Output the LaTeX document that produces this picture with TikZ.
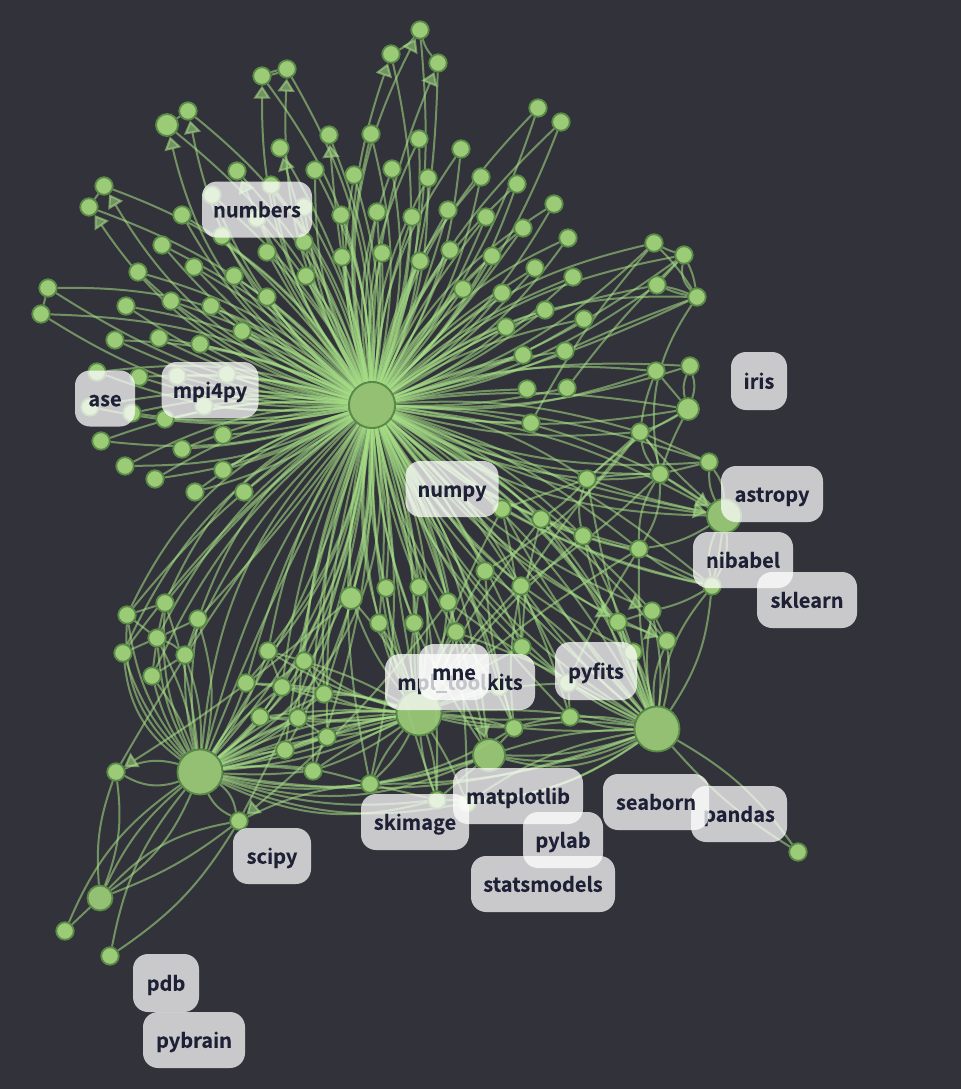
\documentclass[tikz,border=0pt]{standalone}
\usepackage{fontspec}
\setmainfont{Noto Sans CJK SC}[BoldFont={* Bold},UprightFont={* Medium},BoldFeatures={FakeBold=0.25}]
\usetikzlibrary{arrows.meta}
\definecolor{bgc}{HTML}{32323A}
\definecolor{dotf}{HTML}{9CCB78}
\definecolor{dots}{HTML}{5A8A48}
\definecolor{edgec}{HTML}{A6DE86}
\definecolor{labt}{HTML}{1E2136}
\pgfdeclarelayer{edgelayer}
\pgfdeclarelayer{labellayer}
\pgfsetlayers{edgelayer,main,labellayer}
\tikzset{
  dot/.style={circle,draw=dots,fill=dotf,line width=1.8pt,minimum size=17.5pt,inner sep=0pt},
  dotb/.style={dot,minimum size=22pt},
  hub/.style={dot,minimum size=#1,fill opacity=.93},
  edgeline/.style={draw=edgec,opacity=.56,line width=2pt},
  edgearrow/.style={edgeline,-{Triangle[length=13pt,width=17pt]}},
  lab/.style={rounded corners=15pt,fill=white,fill opacity=.74,text opacity=1,text=labt,font=\bfseries\fontsize{20}{20}\selectfont,
    inner sep=0pt,minimum height=56pt,text height=18.5pt,text depth=3pt,align=center}
}
\begin{document}
\begin{tikzpicture}[x=1pt,y=-1pt]
\useasboundingbox (0,0) rectangle (961,1089);
\begin{pgfonlayer}{edgelayer}
\fill[bgc] (0,0) rectangle (961,1089);
\end{pgfonlayer}
% hubs
\node[hub=46pt] (hA) at (372,405) {};
\node[hub=45pt] (hB) at (200,772) {};
\node[hub=45pt] (hC) at (419,713) {};
\node[hub=32pt] (hD) at (489,755) {};
\node[hub=45pt] (hE) at (657,729) {};
\node[hub=34pt] (hF) at (724,516) {};
\node[hub=25pt] (hG) at (100,898) {};
% larger points
\foreach \x/\y in {167/125,351/598,688/409}
  \node[dotb] (p\x x\y) at (\x,\y) {};
% points
\foreach \x/\y in {
420/30,391/54,438/63,287/69,262/76,188/111,104/186,89/207,538/108,561/122,
329/135,371/134,419/139,461/149,280/148,315/170,237/171,354/175,392/169,428/178,271/185,212/195,182/215,304/207,341/215,377/212,412/217,448/210,481/177,257/218,222/236,162/245,194/267,234/276,267/252,304/242,342/257,382/253,420/261,450/250,306/276,267/297,138/272,171/301,211/306,126/306,48/288,41/314,242/331,200/344,159/338,115/340,97/372,139/377,177/376,227/374,204/406,132/413,90/407,165/419,463/289,
223/435,101/441,182/449,125/466,223/470,155/479,195/492,244/492,
517/184,554/204,486/217,523/228,568/238,492/256,535/268,573/277,502/293,545/310,584/319,506/327,523/355,565/351,527/389,567/388,531/423,
654/243,684/255,697/297,657/285,656/371,690/366,640/432,709/462,660/474,587/479,502/509,541/519,583/536,639/549,712/586,485/571,521/586,652/611,618/622,667/641,633/652,
386/588,419/587,448/602,379/623,414/623,456/632,522/647,568/683,499/687,570/717,514/728,370/784,437/800,467/803,798/852,
127/615,165/603,198/619,157/638,123/653,185/655,152/676,268/651,304/661,246/683,282/687,324/694,260/717,298/718,327/737,285/750,313/771,116/772,239/821,65/931,110/956}
  \node[dot] (p\x x\y) at (\x,\y) {};
\begin{pgfonlayer}{edgelayer}
% arrows from the main hub
\foreach \n/\b in {262x76/18,287x69/16,188x111/20,167x125/22,104x186/19,89x207/20,391x54/15,438x63/11,420x30/19,280x148/3,329x135/4,237x171/5,652x611/-12,618x622/-9,667x641/-14}
  \draw[edgearrow] (hA) to[bend left=\b] (p\n);
% outer arcs, as measured
\foreach \n/\b in {262x76/-17,287x69/-15,188x111/-18,167x125/-14,104x186/-18,89x207/-14,48x288/-20,48x288/12,41x314/-13,41x314/16,391x54/-15,420x30/-12,438x63/-9,538x108/14,538x108/-10,561x122/12,561x122/-12,329x135/-12,280x148/-10,237x171/-12}
  \draw[edgeline] (hA) to[bend left=\b] (p\n);
\foreach \n/\b [evaluate=\b as \bb using \b*1.6] in {
 371x134/8,371x134/-8,419x139/9,419x139/-7,461x149/9,461x149/-8,315x170/8,315x170/-8,354x175/8,354x175/-7,392x169/9,392x169/-8,428x178/8,428x178/-8,481x177/9,481x177/-8,517x184/8,517x184/-8,554x204/9,554x204/-7,271x185/8,271x185/-8,212x195/8,212x195/-7,182x215/9,182x215/-8,304x207/6,304x207/-6,568x238/9,568x238/-8,138x272/8,138x272/-8,162x245/7,162x245/-6,
 341x215/3,377x212/-3,412x217/4,448x210/-3,486x217/4,523x228/-3,257x218/4,222x236/-3,267x252/3,304x242/-3,342x257/3,382x253/-3,420x261/3,450x250/-3,306x276/2,267x297/-2,234x276/4,194x267/-4,492x256/3,535x268/5,535x268/-5,573x277/6,573x277/-6,502x293/3,545x310/5,584x319/6,584x319/-5,506x327/2,463x289/-2,
 341x215/-5,377x212/5,412x217/-5,448x210/5,486x217/-5,523x228/5,257x218/-5,222x236/5,267x252/-5,304x242/5,342x257/-5,382x253/5,420x261/-5,450x250/5,306x276/-5,267x297/5,234x276/-5,194x267/5,492x256/-5,502x293/-5,545x310/-5,506x327/-5,463x289/5,
 171x301/4,211x306/-3,126x306/7,126x306/-7,242x331/2,200x344/-3,159x338/5,115x340/6,115x340/-7,97x372/8,97x372/-8,139x377/6,139x377/-6,177x376/4,227x374/-2,204x406/3,132x413/-6,132x413/6,90x407/7,90x407/-6,165x419/3,
 171x301/-5,211x306/5,242x331/-5,200x344/5,159x338/-5,177x376/-5,227x374/5,204x406/-5,165x419/-5,
 223x435/4,101x441/8,101x441/-7,182x449/-5,182x449/5,125x466/8,125x466/-8,223x470/4,223x470/-4,155x479/6,155x479/-7,195x492/6,195x492/-6,244x492/-4,
 654x243/10,654x243/-8,684x255/9,684x255/-6,657x285/7,657x285/-7,697x297/12,697x297/-4,565x351/4,565x351/-4,523x355/3,527x389/2,567x388/-4,531x423/-3,656x371/7,656x371/-7,690x366/6,690x366/-6,688x409/5,688x409/-6,640x432/6,640x432/-6,709x462/5,709x462/-8,660x474/7,660x474/-8,587x479/8,587x479/-7,
 502x509/4,541x519/-6,541x519/6,583x536/-6,583x536/7,639x549/-8,639x549/6,712x586/7,712x586/-9,485x571/4,485x571/-4,521x586/6,521x586/-5,633x652/8,633x652/-10,652x611/6,618x622/7,667x641/6,
 351x598/6,351x598/-5,386x588/5,386x588/-5,419x587/5,419x587/-4,448x602/5,448x602/-6,379x623/4,379x623/-6,414x623/6,414x623/-5,456x632/6,456x632/-6,522x647/5,522x647/-8,568x683/6,568x683/-7,499x687/5,570x717/-7,514x728/5,370x784/7,370x784/-7,437x800/6,437x800/-6,467x803/8,
 127x615/-14,127x615/-6,165x603/-13,165x603/-4,198x619/-11,198x619/2,157x638/-9,123x653/-12,123x653/-5,185x655/-7,152x676/-8,
 268x651/9,268x651/-7,304x661/6,304x661/-6,246x683/10,246x683/-5,282x687/7,282x687/-6,324x694/5,324x694/-7,260x717/8,298x718/5,298x718/-6,327x737/-5,285x750/9,285x750/-4,313x771/6,313x771/-6,116x772/-3,239x821/6}
  \draw[edgeline] (hA) to[bend left=\bb] (p\n);
\foreach \t/\b in {hB/26,hB/16,hB/8,hB/-3,hB/-10,hB/-20,hB/34,hC/16,hC/8,hC/-1,hC/-9,hC/-17,hD/12,hD/-6,hD/-15,hE/22,hE/12,hE/3,hE/-8,hE/-16,hF/11,hF/-10,hF/-16}
  \draw[edgeline] (hA) to[bend left=\b] (\t);
\draw[edgearrow] (hA) to[bend right=6] (hF);
\draw[edgearrow] (hA) to[bend left=5] (hD);
% second hub
\foreach \n/\b in {127x615/15,127x615/26,165x603/14,165x603/-6,198x619/8,198x619/-14,157x638/12,157x638/-8,123x653/24,123x653/12,185x655/7,185x655/-10,152x676/10,152x676/-8,
 268x651/-8,304x661/12,304x661/-10,246x683/-6,282x687/8,282x687/-6,324x694/7,324x694/-5,260x717/-5,298x718/6,298x718/-5,327x737/5,327x737/-4,285x750/6,285x750/-5,313x771/7,313x771/-4,
 370x784/12,370x784/-10,437x800/-12,437x800/-20,467x803/-16,116x772/24,116x772/-20,239x821/-18,239x821/20,65x931/-16,110x956/-14}
  \draw[edgeline] (hB) to[bend left=\b] (p\n);
\foreach \t/\b in {hC/18,hC/12,hC/6,hC/1,hC/-5,hC/-10,hD/-14,hD/-20,hE/-14,hG/16,hG/-12}
  \draw[edgeline] (hB) to[bend left=\b] (\t);
% third hub
\foreach \n/\b in {351x598/9,351x598/-9,386x588/7,379x623/-8,379x623/8,414x623/9,414x623/-8,419x587/6,448x602/-8,456x632/8,456x632/-8,268x651/8,304x661/-6,304x661/10,246x683/-7,282x687/6,282x687/-6,324x694/8,324x694/-8,260x717/7,260x717/-5,298x718/6,298x718/-5,327x737/7,327x737/-6,285x750/-7,313x771/8,313x771/-5,370x784/10,370x784/-8,437x800/8,437x800/-8,514x728/6,514x728/-6,467x803/5,522x647/5,499x687/6,568x683/8,570x717/-5}
  \draw[edgeline] (hC) to[bend left=\b] (p\n);
\foreach \n in {502x509,521x586,485x571,541x519,639x549,583x536}
  \draw[edgeline] (hC) to[bend left=5] (p\n);
% pandas-side hub
\foreach \n/\b in {667x641/14,667x641/-10,652x611/10,652x611/-8,618x622/7,618x622/-6,633x652/8,633x652/-8,712x586/16,712x586/-14,798x852/12,798x852/-8,568x683/7,570x717/8,570x717/-8,502x509/6,541x519/-6,583x536/6,583x536/-5,521x586/7,485x571/-6,587x479/5,639x549/6,522x647/6,456x632/-5,448x602/5,514x728/-8,467x803/14,467x803/-12,437x800/18,370x784/10}
  \draw[edgeline] (hE) to[bend left=\b] (p\n);
\foreach \b in {10,17,23,-8}
  \draw[edgeline] (hE) to[bend left=\b] (hD);
\foreach \b in {6,-7}
  \draw[edgeline] (hE) to[bend left=\b] (hC);
% astropy-side hub
\foreach \n/\b in {709x462/14,709x462/-16,712x586/18,712x586/-18,712x586/3,639x549/12,660x474/-2,640x432/4,587x479/3}
  \draw[edgeline] (hF) to[bend left=\b] (p\n);
\draw[edgearrow] (p660x474) -- (hF);
% point to point
\foreach \a/\c/\b in {
420x30/391x54/12,420x30/438x63/-12,262x76/287x69/8,262x76/287x69/-8,167x125/188x111/0,89x207/104x186/0,48x288/41x314/0,
654x243/684x255/-5,654x243/697x297/6,684x255/697x297/-26,684x255/697x297/8,657x285/697x297/5,657x285/697x297/-6,684x255/657x285/0,
697x297/660x474/-22,697x297/565x351/-2,654x243/531x423/-6,684x255/567x388/-4,
690x366/688x409/18,690x366/688x409/-18,656x371/688x409/0,656x371/640x432/-6,688x409/640x432/6,688x409/660x474/-4,688x409/587x479/-6,
640x432/709x462/0,640x432/660x474/16,640x432/660x474/-16,709x462/660x474/0,660x474/639x549/16,660x474/639x549/-16,660x474/587x479/5,660x474/587x479/-4,587x479/640x432/0,
587x479/583x536/-16,587x479/541x519/6,587x479/502x509/0,640x432/521x586/-4,640x432/485x571/10,660x474/521x586/5,
712x586/502x509/8,712x586/583x536/-6,712x586/639x549/10,639x549/583x536/6,583x536/541x519/5,639x549/568x683/-4,
712x586/652x611/8,652x611/667x641/0,618x622/667x641/3,618x622/652x611/0,
541x519/522x647/-6,502x509/522x647/4,485x571/514x728/-6,521x586/570x717/3,521x586/514x728/-8,456x632/514x728/7,
514x728/570x717/6,570x717/568x683/0,
127x615/165x603/0,127x615/157x638/0,165x603/157x638/0,198x619/157x638/0,123x653/157x638/0,185x655/152x676/0,157x638/185x655/10,157x638/152x676/0,198x619/185x655/0,
268x651/304x661/0,246x683/282x687/0,282x687/324x694/0,260x717/298x718/0,298x718/327x737/0,285x750/327x737/0,268x651/282x687/0,304x661/324x694/0,
239x821/370x784/10,370x784/437x800/0,370x784/514x728/-10}
  \draw[edgeline] (p\a) to[bend left=\b] (p\c);
\foreach \t/\n/\b in {hG/116x772/12,hG/116x772/-14,hG/65x931/0,hG/239x821/-8,hG/239x821/18,hD/514x728/0,hD/437x800/0,hD/370x784/6}
  \draw[edgeline] (\t) to[bend left=\b] (p\n);
\draw[edgeline] (p239x821) to[bend left=12] (p110x956);
\draw[edgearrow] (p351x598) to[bend left=4] (p116x772);
\draw[edgearrow] (p448x602) to[bend left=6] (p239x821);
\end{pgfonlayer}
\begin{pgfonlayer}{labellayer}
\node[lab,minimum width=110pt] (lnumbers) at (257,209.5) {numbers};
\node[lab,minimum width=60pt] (lase) at (105,398.5) {ase};
\node[lab,minimum width=97pt] (lmpi) at (210,390) {mpi4py};
\node[lab,minimum width=56pt,minimum height=58pt] (liris) at (759,381) {iris};
\node[lab,minimum width=93pt] (lnumpy) at (452,489) {numpy};
\node[lab,minimum width=102pt] (lastropy) at (772,494) {astropy};
\node[lab,minimum width=100pt] (lnibabel) at (743,560) {nibabel};
\node[lab,minimum width=100pt] (lsklearn) at (807,600) {sklearn};
\node[lab,minimum width=150pt] (lmpl) at (460,682) {mpl\_toolkits};
\node[lab,minimum width=70pt] (lmne) at (454,672) {mne};
\node[lab,minimum width=82pt,minimum height=58pt] (lpyfits) at (596,671) {pyfits};
\node[lab,minimum width=108pt] (lskimage) at (415,822) {skimage};
\node[lab,minimum width=130pt] (lmatplotlib) at (518,796) {matplotlib};
\node[lab,minimum width=96pt] (lpandas) at (739,814) {pandas};
\node[lab,minimum width=106pt] (lseaborn) at (656,802) {seaborn};
\node[lab,minimum width=144pt] (lstats) at (543,884) {statsmodels};
\node[lab,minimum width=80pt] (lpylab) at (563,840) {pylab};
\node[lab,minimum width=78pt] (lscipy) at (272,856) {scipy};
\node[lab,minimum width=66pt,minimum height=58pt] (lpdb) at (166,983) {pdb};
\node[lab,minimum width=102pt] (lpybrain) at (194,1040) {pybrain};
\end{pgfonlayer}
\end{tikzpicture}
\end{document}
